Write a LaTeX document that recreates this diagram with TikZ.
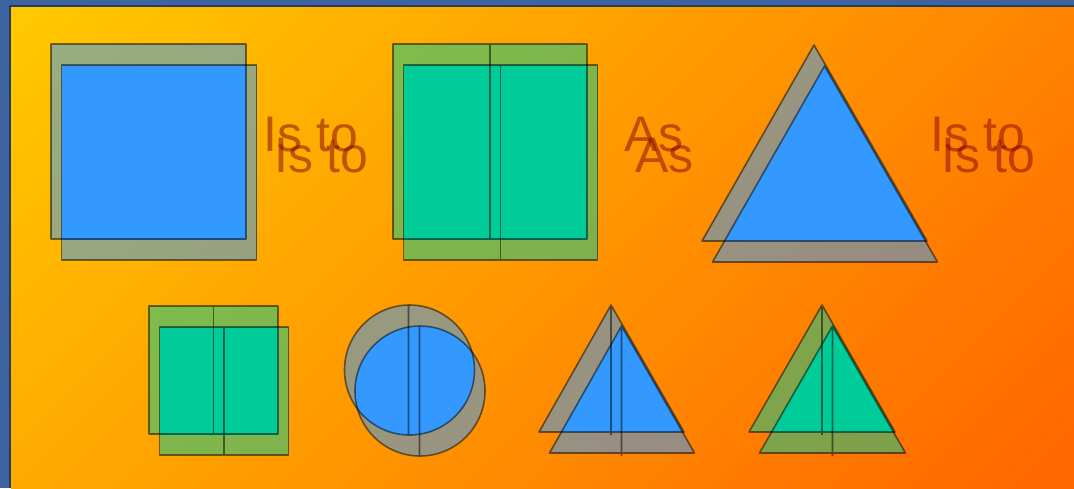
\documentclass[tikz,border=0pt]{standalone}
\usepackage{fontspec}
\setmainfont{Liberation Sans}
\definecolor{slideFrame}{HTML}{3D64A0}
\definecolor{slideEdge}{HTML}{283C5E}
\definecolor{slideTop}{HTML}{FFC800}
\definecolor{slideLow}{HTML}{FF6600}
\definecolor{shapeBlue}{HTML}{3399FF}
\definecolor{shapeTeal}{HTML}{00CC99}
\definecolor{wordRed}{HTML}{800000}

\tikzset{
  ghost/.style={fill=#1, fill opacity=0.5},
  rim/.style={draw=black, draw opacity=0.5, line width=1.6pt, line join=round},
  word/.style={text=wordRed, text opacity=0.5, font=\fontsize{50}{56}\selectfont,
    anchor=base west, inner sep=0pt}
}

\begin{document}
\begin{tikzpicture}[x=1pt,y=-1pt]
  \useasboundingbox (0,0) rectangle (1074,488);
  % slide frame and background
  \fill[slideFrame] (0,0) rectangle (1074,488);
  \fill[slideEdge] (9,5) rectangle (1074,488);
  \begin{scope}
    \clip (11,7) rectangle (1074,488);
    \shade[top color=slideTop, bottom color=slideLow, shading angle=45]
      (11,-284) rectangle (1074,779);
  \end{scope}

  % big square
  \fill[ghost=shapeBlue] (51,44) rectangle (246,239);
  \fill[ghost=shapeBlue] (61.5,65) rectangle (256.5,260);
  \begin{scope}
    \clip (51,44) rectangle (246,239);
    \fill[shapeBlue] (61.5,65) rectangle (256.5,260);
  \end{scope}
  \draw[rim] (51,44) rectangle (246,239);
  \draw[rim] (61.5,65) rectangle (256.5,260);

  % big split rectangle
  \fill[ghost=shapeTeal] (393,44) rectangle (587,239);
  \fill[ghost=shapeTeal] (403.5,65) rectangle (597.5,260);
  \begin{scope}
    \clip (393,44) rectangle (587,239);
    \fill[shapeTeal] (403.5,65) rectangle (597.5,260);
  \end{scope}
  \draw[rim] (393,44) rectangle (587,239) (490,44) -- (490,239);
  \draw[rim] (403.5,65) rectangle (597.5,260) (500.5,65) -- (500.5,260);

  % big triangle
  \fill[ghost=shapeBlue] (814,45) -- (927,241) -- (702,241) -- cycle;
  \fill[ghost=shapeBlue] (824.5,66) -- (937.5,262) -- (712.5,262) -- cycle;
  \begin{scope}
    \clip (814,45) -- (927,241) -- (702,241) -- cycle;
    \fill[shapeBlue] (824.5,66) -- (937.5,262) -- (712.5,262) -- cycle;
  \end{scope}
  \draw[rim] (814,45) -- (927,241) -- (702,241) -- cycle;
  \draw[rim] (824.5,66) -- (937.5,262) -- (712.5,262) -- cycle;

  % words
  \node[word] (isToA) at (263.5,151) {Is to};
  \node[word] (isToB) at (274,172) {Is to};
  \node[word] (asA) at (624.5,151) {As};
  \node[word] (asB) at (635,172) {As};
  \node[word] (isToC) at (930.5,151) {Is to};
  \node[word] (isToD) at (941,172) {Is to};

  % small split rectangle
  \fill[ghost=shapeTeal] (149,306) rectangle (278,434);
  \fill[ghost=shapeTeal] (159.5,327) rectangle (288.5,455);
  \begin{scope}
    \clip (149,306) rectangle (278,434);
    \fill[shapeTeal] (159.5,327) rectangle (288.5,455);
  \end{scope}
  \draw[rim] (149,306) rectangle (278,434) (213.5,306) -- (213.5,434);
  \draw[rim] (159.5,327) rectangle (288.5,455) (224,327) -- (224,455);

  % split circle
  \fill[ghost=shapeBlue] (409.5,370) circle (65pt);
  \fill[ghost=shapeBlue] (420,391) circle (65pt);
  \begin{scope}
    \clip (409.5,370) circle (65pt);
    \fill[shapeBlue] (420,391) circle (65pt);
  \end{scope}
  \draw[rim] (409.5,370) circle (65pt) (408.5,305) -- (408.5,435);
  \draw[rim] (420,391) circle (65pt) (419.5,326) -- (419.5,456);

  % small split triangles
  \fill[ghost=shapeBlue] (611,305) -- (684,432) -- (539,432) -- cycle;
  \fill[ghost=shapeBlue] (621.5,326) -- (694.5,453) -- (549.5,453) -- cycle;
  \begin{scope}
    \clip (611,305) -- (684,432) -- (539,432) -- cycle;
    \fill[shapeBlue] (621.5,326) -- (694.5,453) -- (549.5,453) -- cycle;
  \end{scope}
  \draw[rim] (611,305) -- (684,432) -- (539,432) -- cycle (611,305) -- (611,435);
  \draw[rim] (621.5,326) -- (694.5,453) -- (549.5,453) -- cycle (621.5,326) -- (621.5,456);

  \fill[ghost=shapeTeal] (822,305) -- (895,432) -- (749,432) -- cycle;
  \fill[ghost=shapeTeal] (832.5,326) -- (905.5,453) -- (759.5,453) -- cycle;
  \begin{scope}
    \clip (822,305) -- (895,432) -- (749,432) -- cycle;
    \fill[shapeTeal] (832.5,326) -- (905.5,453) -- (759.5,453) -- cycle;
  \end{scope}
  \draw[rim] (822,305) -- (895,432) -- (749,432) -- cycle (822,305) -- (822,435);
  \draw[rim] (832.5,326) -- (905.5,453) -- (759.5,453) -- cycle (832.5,326) -- (832.5,456);
\end{tikzpicture}
\end{document}
